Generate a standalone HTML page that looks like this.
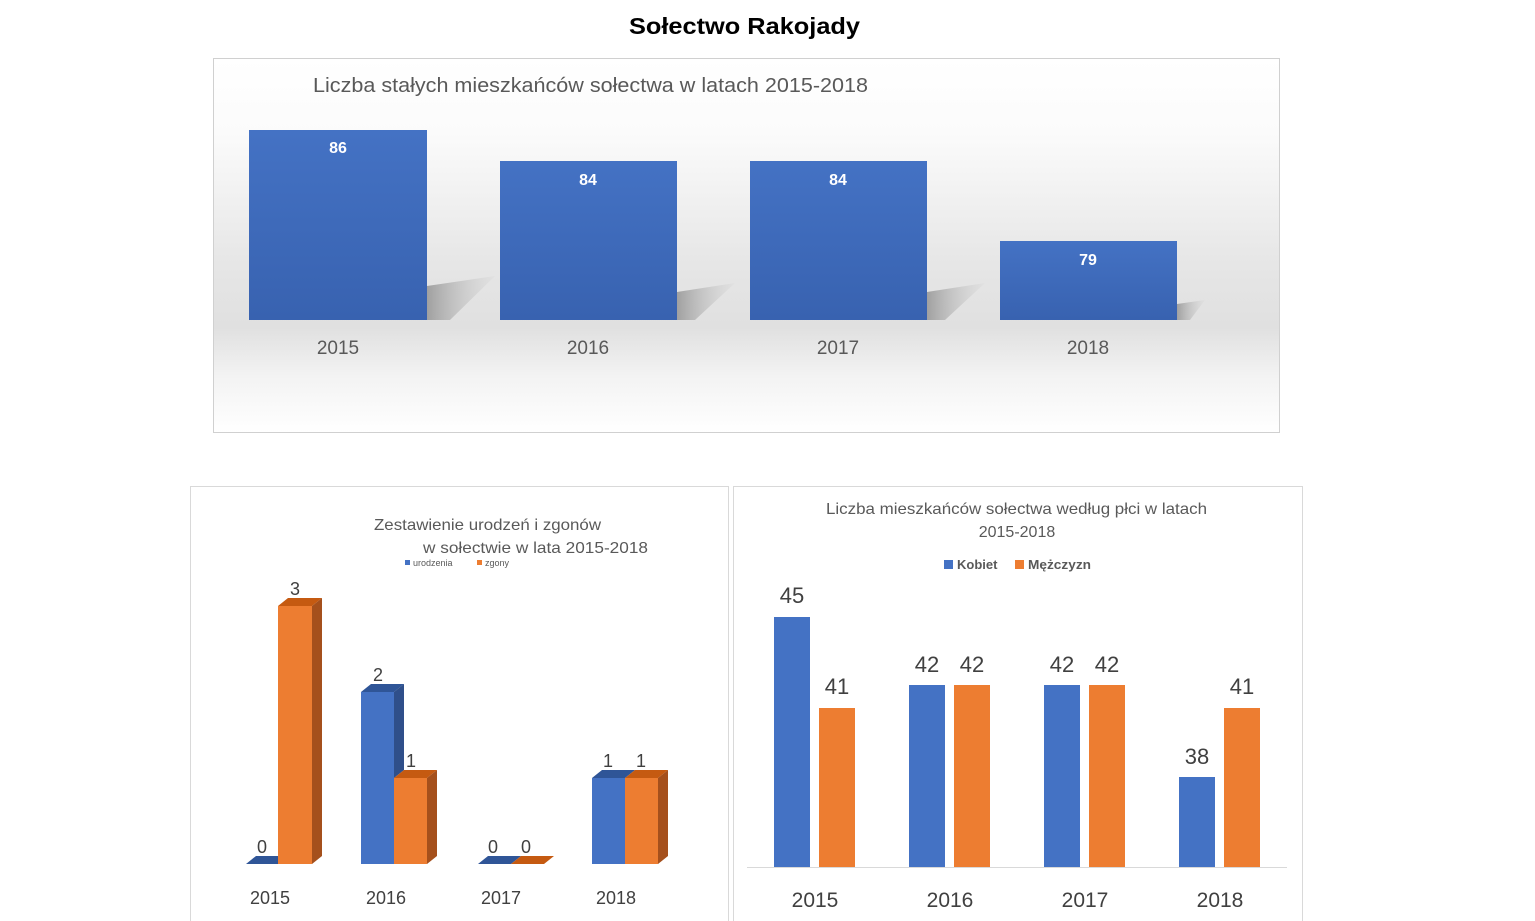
<!DOCTYPE html>
<html><head><meta charset="utf-8"><style>
html,body{margin:0;padding:0;background:#fff;}
svg{display:block;font-family:"Liberation Sans",sans-serif;}
</style></head><body>
<svg width="1535" height="921" viewBox="0 0 1535 921" xmlns="http://www.w3.org/2000/svg">
<defs>
<linearGradient id="bg1" x1="0" y1="0" x2="0" y2="1">
<stop offset="0" stop-color="#fff"/>
<stop offset="0.2" stop-color="#fbfbfb"/>
<stop offset="0.55" stop-color="#e6e6e6"/>
<stop offset="0.72" stop-color="#e0e0e0"/>
<stop offset="0.85" stop-color="#f3f3f3"/>
<stop offset="1" stop-color="#fff"/>
</linearGradient>
<linearGradient id="bar1" x1="0" y1="0" x2="0" y2="1">
<stop offset="0" stop-color="#4472c4"/>
<stop offset="1" stop-color="#3862b0"/>
</linearGradient>
<linearGradient id="sh" x1="0" y1="0" x2="1" y2="0">
<stop offset="0" stop-color="#a0a0a0"/>
<stop offset="1" stop-color="#d8d8d8" stop-opacity="0.3"/>
</linearGradient>
</defs>
<rect width="1535" height="921" fill="#fff"/>
<text x="629" y="34" textLength="231" lengthAdjust="spacingAndGlyphs" font-size="23" font-weight="bold" fill="#000">Sołectwo Rakojady</text>

<!-- Chart 1 -->
<rect x="213.5" y="58.5" width="1066" height="374" fill="url(#bg1)" stroke="#d0d0d0"/>
<text x="313" y="92" textLength="555" lengthAdjust="spacingAndGlyphs" font-size="20" fill="#595959">Liczba stałych mieszkańców sołectwa w latach 2015-2018</text>
<g fill="url(#sh)">
<polygon points="427,320 427,286 495,276 450,320"/>
<polygon points="677,320 677,292 735,283 695,320"/>
<polygon points="927,320 927,292 985,283 945,320"/>
<polygon points="1177,320 1177,304 1205,300 1190,320"/>
</g>
<rect x="249" y="130" width="178" height="190" fill="url(#bar1)"/>
<rect x="500" y="161" width="177" height="159" fill="url(#bar1)"/>
<rect x="750" y="161" width="177" height="159" fill="url(#bar1)"/>
<rect x="1000" y="241" width="177" height="79" fill="url(#bar1)"/>
<g font-size="16" font-weight="bold" fill="#fff" text-anchor="middle">
<text x="338" y="153">86</text><text x="588" y="185">84</text><text x="838" y="185">84</text><text x="1088" y="265">79</text>
</g>
<g font-size="19" fill="#595959" text-anchor="middle">
<text x="338" y="354">2015</text><text x="588" y="354">2016</text><text x="838" y="354">2017</text><text x="1088" y="354">2018</text>
</g>

<!-- Chart 2 -->
<rect x="190.5" y="486.5" width="538" height="440" fill="#fff" stroke="#d9d9d9"/>
<text x="374" y="530" textLength="227" lengthAdjust="spacingAndGlyphs" font-size="16" fill="#595959">Zestawienie urodzeń i zgonów</text>
<text x="423" y="553" textLength="225" lengthAdjust="spacingAndGlyphs" font-size="16" fill="#595959">w sołectwie w lata 2015-2018</text>
<rect x="405" y="560" width="5" height="5" fill="#4472c4"/><text x="413" y="566" font-size="9" fill="#595959">urodzenia</text>
<rect x="477" y="560" width="5" height="5" fill="#ed7d31"/><text x="485" y="566" font-size="9" fill="#595959">zgony</text>
<g>
<polygon points="246,864 278,864 288,856 256,856" fill="#2f5597"/>
<rect x="278" y="606" width="34" height="258" fill="#ed7d31"/>
<polygon points="278,606 288,598 322,598 312,606" fill="#c55a11"/>
<polygon points="312,606 322,598 322,856 312,864" fill="#a5501c"/>
<rect x="361" y="692" width="33" height="172" fill="#4472c4"/>
<polygon points="361,692 371,684 404,684 394,692" fill="#2f5597"/>
<polygon points="394,692 404,684 404,770 394,778" fill="#2f4f8a"/>
<rect x="394" y="778" width="33" height="86" fill="#ed7d31"/>
<polygon points="394,778 404,770 437,770 427,778" fill="#c55a11"/>
<polygon points="427,778 437,770 437,856 427,864" fill="#a5501c"/>
<polygon points="478,864 511,864 521,856 488,856" fill="#2f5597"/>
<polygon points="511,864 544,864 554,856 521,856" fill="#c55a11"/>
<rect x="592" y="778" width="33" height="86" fill="#4472c4"/>
<polygon points="592,778 602,770 635,770 625,778" fill="#2f5597"/>
<rect x="625" y="778" width="33" height="86" fill="#ed7d31"/>
<polygon points="625,778 635,770 668,770 658,778" fill="#c55a11"/>
<polygon points="658,778 668,770 668,856 658,864" fill="#a5501c"/>
</g>
<g font-size="18" fill="#404040" text-anchor="middle">
<text x="262" y="853">0</text><text x="295" y="595">3</text>
<text x="378" y="681">2</text><text x="411" y="767">1</text>
<text x="493" y="853">0</text><text x="526" y="853">0</text>
<text x="608" y="767">1</text><text x="641" y="767">1</text>
</g>
<g font-size="18" fill="#404040" text-anchor="middle">
<text x="270" y="904">2015</text><text x="386" y="904">2016</text><text x="501" y="904">2017</text><text x="616" y="904">2018</text>
</g>

<!-- Chart 3 -->
<rect x="733.5" y="486.5" width="569" height="440" fill="#fff" stroke="#d9d9d9"/>
<text x="826" y="514" textLength="381" lengthAdjust="spacingAndGlyphs" font-size="16" fill="#595959">Liczba mieszkańców sołectwa według płci w latach</text>
<text x="1017" y="537" text-anchor="middle" font-size="16" fill="#595959">2015-2018</text>
<rect x="944" y="560" width="9" height="9" fill="#4472c4"/><text x="957" y="569" font-size="13" font-weight="bold" fill="#595959">Kobiet</text>
<rect x="1015" y="560" width="9" height="9" fill="#ed7d31"/><text x="1028" y="569" textLength="63" lengthAdjust="spacingAndGlyphs" font-size="13" font-weight="bold" fill="#595959">Mężczyzn</text>
<line x1="747" y1="867.5" x2="1287" y2="867.5" stroke="#d9d9d9"/>
<g fill="#4472c4">
<rect x="774" y="617" width="36" height="250"/><rect x="909" y="685" width="36" height="182"/>
<rect x="1044" y="685" width="36" height="182"/><rect x="1179" y="777" width="36" height="90"/>
</g>
<g fill="#ed7d31">
<rect x="819" y="708" width="36" height="159"/><rect x="954" y="685" width="36" height="182"/>
<rect x="1089" y="685" width="36" height="182"/><rect x="1224" y="708" width="36" height="159"/>
</g>
<g font-size="22" fill="#404040" text-anchor="middle">
<text x="792" y="603">45</text><text x="837" y="694">41</text>
<text x="927" y="672">42</text><text x="972" y="672">42</text>
<text x="1062" y="672">42</text><text x="1107" y="672">42</text>
<text x="1197" y="764">38</text><text x="1242" y="694">41</text>
</g>
<g font-size="21" fill="#404040" text-anchor="middle">
<text x="815" y="907">2015</text><text x="950" y="907">2016</text><text x="1085" y="907">2017</text><text x="1220" y="907">2018</text>
</g>
</svg>
</body></html>
